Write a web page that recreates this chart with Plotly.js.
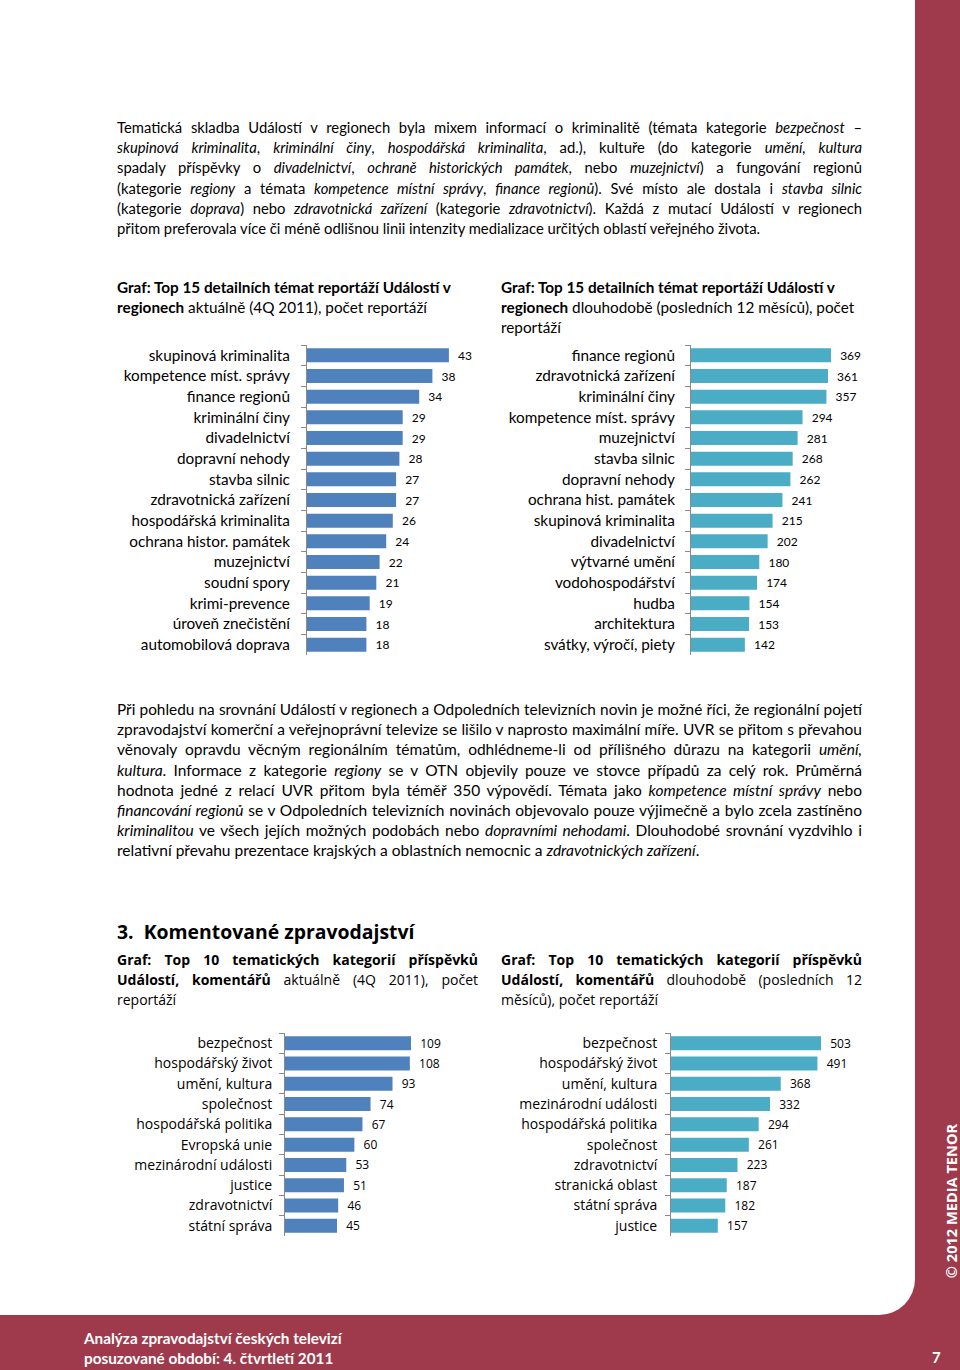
<!DOCTYPE html>
<html><head><meta charset="utf-8">
<script src="https://cdn.plot.ly/plotly-3.0.1.min.js"></script>
<style>
html,body{margin:0;padding:0;}
body{width:960px;height:1370px;background:#9E3A4B;position:relative;overflow:hidden;font-family:Lato, "Noto Sans", sans-serif;color:#000;}
#page{position:absolute;left:0;top:0;width:915px;height:1315px;background:#fff;border-bottom-right-radius:36px;}
.blk{position:absolute;font-size:14.8px;line-height:20.2px;}
.ln{text-align:justify;text-align-last:justify;}
.last{text-align:left;text-align-last:left;}
.os{font-family:"Open Sans", sans-serif;}
.chart{position:absolute;}
#foot{position:absolute;left:84px;top:1328px;color:#fff;font-weight:bold;font-size:15.3px;line-height:20px;}
#pnum{position:absolute;left:932px;top:1348px;color:#fff;font-weight:bold;font-size:15px;}
#copy{position:absolute;left:951px;top:1201px;color:#fff;font-weight:bold;font-size:14.6px;white-space:nowrap;transform:translate(-50%,-50%) rotate(-90deg);font-family:"Open Sans",sans-serif;}
</style></head>
<body>
<div id="page"></div>

<div class="blk" style="left:117px;top:117px;width:745px;">
<div class="ln">Tematická skladba Událostí v regionech byla mixem informací o kriminalitě (témata kategorie <i>bezpečnost</i> –</div>
<div class="ln"><i>skupinová kriminalita</i>, <i>kriminální činy</i>, <i>hospodářská kriminalita</i>, ad.), kultuře (do kategorie <i>umění, kultura</i></div>
<div class="ln">spadaly příspěvky o <i>divadelnictví</i>, <i>ochraně historických památek</i>, nebo <i>muzejnictví</i>) a fungování regionů</div>
<div class="ln">(kategorie <i>regiony</i> a témata <i>kompetence místní správy</i>, <i>finance regionů</i>). Své místo ale dostala i <i>stavba silnic</i></div>
<div class="ln">(kategorie <i>doprava</i>) nebo <i>zdravotnická zařízení</i> (kategorie <i>zdravotnictví</i>). Každá z mutací Událostí v regionech</div>
<div class="ln last">přitom preferovala více či méně odlišnou linii intenzity medializace určitých oblastí veřejného života.</div>
</div>

<div class="blk" style="left:117px;top:277px;width:375px;font-size:15.3px;">
<div><b>Graf: Top 15 detailních témat reportáží Událostí v</b></div>
<div><b>regionech</b> aktuálně (4Q 2011), počet reportáží</div>
</div>
<div class="blk" style="left:501px;top:277px;width:375px;font-size:15.3px;">
<div><b>Graf: Top 15 detailních témat reportáží Událostí v</b></div>
<div><b>regionech</b> dlouhodobě (posledních 12 měsíců), počet</div>
<div>reportáží</div>
</div>

<div id="c1" class="chart" style="left:100px;top:340px;"></div>
<div id="c2" class="chart" style="left:490px;top:340px;"></div>

<div class="blk" style="left:117px;top:699px;width:745px;font-size:15.5px;">
<div class="ln">Při pohledu na srovnání Událostí v regionech a Odpoledních televizních novin je možné říci, že regionální pojetí</div>
<div class="ln">zpravodajství komerční a veřejnoprávní televize se lišilo v naprosto maximální míře. UVR se přitom s převahou</div>
<div class="ln">věnovaly opravdu věcným regionálním tématům, odhlédneme-li od přílišného důrazu na kategorii <i>umění,</i></div>
<div class="ln"><i>kultura</i>. Informace z kategorie <i>regiony</i> se v OTN objevily pouze ve stovce případů za celý rok. Průměrná</div>
<div class="ln">hodnota jedné z relací UVR přitom byla téměř 350 výpovědí. Témata jako <i>kompetence místní správy</i> nebo</div>
<div class="ln"><i>financování regionů</i> se v Odpoledních televizních novinách objevovalo pouze výjimečně a bylo zcela zastíněno</div>
<div class="ln"><i>kriminalitou</i> ve všech jejích možných podobách nebo <i>dopravními nehodami</i>. Dlouhodobé srovnání vyzdvihlo i</div>
<div class="ln last">relativní převahu prezentace krajských a oblastních nemocnic a <i>zdravotnických zařízení</i>.</div>
</div>

<div class="blk os" style="left:117px;top:917px;font-size:19.4px;line-height:30px;font-weight:bold;">3.&nbsp;&nbsp;Komentované zpravodajství</div>

<div class="blk os" style="left:117px;top:950px;width:361px;font-size:14px;line-height:20.2px;">
<div class="ln"><b>Graf: Top 10 tematických kategorií příspěvků</b></div>
<div class="ln"><b>Událostí, komentářů</b> aktuálně (4Q 2011), počet</div>
<div class="ln last">reportáží</div>
</div>
<div class="blk os" style="left:501px;top:950px;width:361px;font-size:14px;line-height:20.2px;">
<div class="ln"><b>Graf: Top 10 tematických kategorií příspěvků</b></div>
<div class="ln"><b>Událostí, komentářů</b> dlouhodobě (posledních 12</div>
<div class="ln last">měsíců), počet reportáží</div>
</div>

<div id="c3" class="chart" style="left:100px;top:1025px;"></div>
<div id="c4" class="chart" style="left:490px;top:1025px;"></div>

<div id="foot">Analýza zpravodajství českých televizí<br>posuzované období: 4. čtvrtletí 2011</div>
<div id="pnum">7</div>
<div id="copy">© 2012 MEDIA TENOR</div>

<script>
// ---- data ----
const topicsCurrent = ["skupinová kriminalita","kompetence míst. správy","finance regionů","kriminální činy","divadelnictví","dopravní nehody","stavba silnic","zdravotnická zařízení","hospodářská kriminalita","ochrana histor. památek","muzejnictví","soudní spory","krimi-prevence","úroveň znečistění","automobilová doprava"];
const countsCurrent = [43,38,34,29,29,28,27,27,26,24,22,21,19,18,18];

const topicsLong = ["finance regionů","zdravotnická zařízení","kriminální činy","kompetence míst. správy","muzejnictví","stavba silnic","dopravní nehody","ochrana hist. památek","skupinová kriminalita","divadelnictví","výtvarné umění","vodohospodářství","hudba","architektura","svátky, výročí, piety"];
const countsLong = [369,361,357,294,281,268,262,241,215,202,180,174,154,153,142];

const categoriesCurrent = ["bezpečnost","hospodářský život","umění, kultura","společnost","hospodářská politika","Evropská unie","mezinárodní události","justice","zdravotnictví","státní správa"];
const catCountsCurrent = [109,108,93,74,67,60,53,51,46,45];

const categoriesLong = ["bezpečnost","hospodářský život","umění, kultura","mezinárodní události","hospodářská politika","společnost","zdravotnictví","stranická oblast","státní správa","justice"];
const catCountsLong = [503,491,368,332,294,261,223,187,182,157];

// keep justified lines on one line: shrink a line slightly if its natural width is too wide
document.querySelectorAll('.ln').forEach(el => {
  const w = el.clientWidth;
  const fs = parseFloat(getComputedStyle(el).fontSize);
  el.style.whiteSpace = 'nowrap'; el.style.display = 'inline-block'; el.style.width = 'auto';
  const nat = el.getBoundingClientRect().width;
  el.style.whiteSpace = ''; el.style.display = ''; el.style.width = '';
  if (nat > w - 2) el.style.fontSize = (fs * (w - 4) / nat) + 'px';
});

// ---- drawing ----
function draw(id, cats, vals, opt){
  const trace = {
    type:'bar', orientation:'h', x:vals, y:cats,
    marker:{color:opt.color, line:{width:0}},
    text: vals.map(v => '\u00a0\u00a0' + v),
    texttemplate:'%{text}',
    textposition:'outside', cliponaxis:false, constraintext:'none',
    textfont:{family:opt.font, size:opt.valSize, color:'#000'},
    hoverinfo:'none'
  };
  const layout = {
    width:opt.w, height:opt.h,
    margin:{l:opt.l, r:opt.w-opt.l-opt.pw, t:opt.t, b:opt.h-opt.t-opt.ph, pad:0},
    paper_bgcolor:'rgba(0,0,0,0)', plot_bgcolor:'rgba(0,0,0,0)',
    showlegend:false, bargap:opt.gap,
    xaxis:{range:[0, opt.pw/opt.pxPerUnit], visible:false, fixedrange:true, zeroline:false, showgrid:false},
    yaxis:{type:'category', autorange:'reversed', showline:true, linecolor:'#898989', linewidth:1,
           ticks:'outside', ticklen:5, tickcolor:'#898989', tickwidth:1, tickson:'boundaries',
           showgrid:false, zeroline:false, fixedrange:true, automargin:false,
           ticklabelstandoff:opt.standoff,
           tickfont:{family:opt.font, size:opt.labSize, color:'#000'}}
  };
  Plotly.newPlot(id, [trace], layout, {displayModeBar:false, staticPlot:true});
}

draw('c1', topicsCurrent, countsCurrent, {color:'#4F81BD', font:'Lato', labSize:15.3, valSize:12,
  w:400, h:320, l:207, t:5, pw:190, ph:310, pxPerUnit:3.30, gap:0.32, standoff:13});
draw('c2', topicsLong, countsLong, {color:'#4BACC6', font:'Lato', labSize:15.3, valSize:12,
  w:400, h:320, l:201, t:5, pw:190, ph:310, pxPerUnit:0.3794, gap:0.32, standoff:12});
draw('c3', categoriesCurrent, catCountsCurrent, {color:'#4F81BD', font:'Open Sans', labSize:14, valSize:12,
  w:400, h:220, l:185, t:8, pw:170, ph:203, pxPerUnit:1.156, gap:0.31, standoff:9});
draw('c4', categoriesLong, catCountsLong, {color:'#4BACC6', font:'Open Sans', labSize:14, valSize:12,
  w:400, h:220, l:181, t:8, pw:190, ph:203, pxPerUnit:0.2982, gap:0.31, standoff:10});
</script>
</body></html>
